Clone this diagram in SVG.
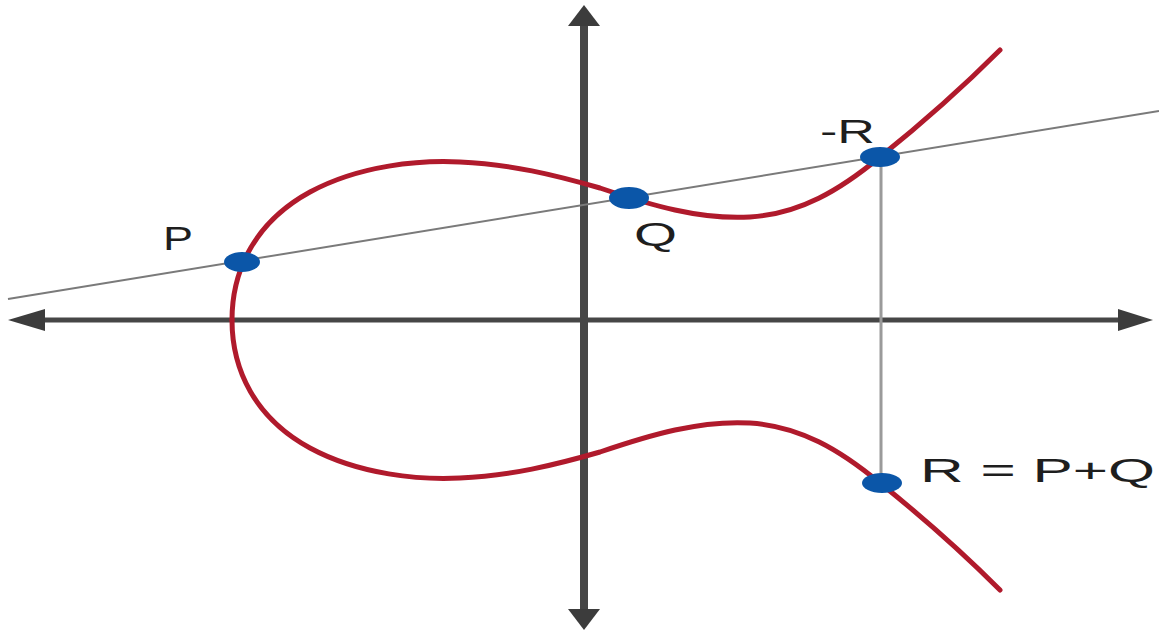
<svg xmlns="http://www.w3.org/2000/svg" xmlns:xlink="http://www.w3.org/1999/xlink" width="1159" height="632" viewBox="0 0 1159 632">
<style>
.axis{stroke:#464646;fill:none}
.head{fill:#3c3c3c}
.secant{stroke:#7a7a7a;stroke-width:2;fill:none}
.vert{stroke:#9a9a9a;stroke-width:3;fill:none}
.curve{stroke:#b01a2c;stroke-width:5;fill:none;stroke-linecap:round;stroke-linejoin:round}
.dot{fill:#0b56a8}
.lbl{font-family:"Liberation Sans",Arial,sans-serif;font-size:34px;fill:#1e1e1e}
</style>
<defs>
<path id="upper" d="M 232,320 C 232,270 255,222 310,192 C 360,165 420,160 460,162 C 510,164 555,175 600,188 C 650,205 700,220 750,217 C 800,214 840,190 880,157 C 920,125 960,90 1000,50"/>
</defs>
<rect width="1159" height="632" fill="#ffffff"/>
<g id="connectors">
<line class="axis" x1="40" y1="320" x2="1122" y2="320" stroke-width="5"/>
<polygon class="head" points="8,320 45,309 45,331"/>
<polygon class="head" points="1153,320 1118,309 1118,331"/>
<line class="axis" x1="584" y1="22" x2="584" y2="612" stroke-width="8"/>
<polygon class="head" points="584,5 568,26 600,26"/>
<polygon class="head" points="584,630 568,609 600,609"/>
<line class="secant" x1="8" y1="299" x2="1159" y2="111"/>
<line class="vert" x1="881" y1="157" x2="881" y2="483"/>
</g>
<g id="curve">
<use xlink:href="#upper" class="curve"/>
<use xlink:href="#upper" class="curve" transform="matrix(1,0,0,-1,0,640)"/>
</g>
<g id="P">
<ellipse class="dot" cx="242" cy="262" rx="18" ry="10"/>
<text class="lbl" x="163" y="250" textLength="30" lengthAdjust="spacingAndGlyphs">P</text>
</g>
<g id="Q">
<ellipse class="dot" cx="629" cy="198" rx="20" ry="11"/>
<text class="lbl" x="634" y="246" textLength="43" lengthAdjust="spacingAndGlyphs">Q</text>
</g>
<g id="negR">
<ellipse class="dot" cx="880" cy="157" rx="20" ry="10"/>
<text class="lbl" x="820" y="143" textLength="55" lengthAdjust="spacingAndGlyphs">-R</text>
</g>
<g id="R">
<ellipse class="dot" cx="882" cy="483" rx="20" ry="10"/>
<text class="lbl" x="920" y="482" textLength="235" lengthAdjust="spacingAndGlyphs">R = P+Q</text>
</g>
</svg>
